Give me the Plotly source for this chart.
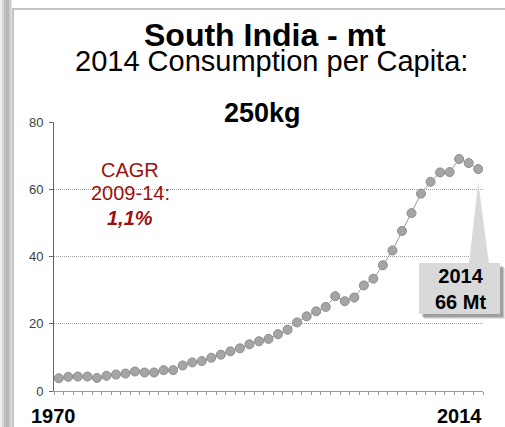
import plotly.graph_objects as go

# Annual cement consumption, South India (million tonnes)
years = list(range(1970, 2015))
consumption_mt = [
    3.8, 4.2, 4.3, 4.3, 3.9, 4.5, 4.9, 5.2, 5.8, 5.5,
    5.5, 6.2, 6.2, 7.6, 8.5, 8.9, 9.9, 10.8, 11.8, 12.7,
    13.9, 14.8, 15.5, 16.9, 18.2, 20.4, 22.2, 23.7, 25.0, 28.2,
    26.7, 27.8, 31.4, 33.4, 37.4, 41.8, 47.6, 52.9, 58.7, 62.2,
    65.0, 65.1, 69.0, 67.8, 66.0,
]
y_ticks = [0, 20, 40, 60, 80]
title_text = "South India - mt"
subtitle_text = "2014 Consumption per Capita:"
per_capita_text = "250kg"
cagr_lines = ["CAGR", "2009-14:", "<i><b>1,1%</b></i>"]
end_label = f"{years[-1]}<br>{consumption_mt[-1]:.0f} Mt"

W, H = 505, 427
ML, MR, MT, MB = 54, 22, 122, 36
PW, PH = W - ML - MR, H - MT - MB
X_RANGE = [years[0] - 0.5, years[-1] + 0.5]
Y_RANGE = [0, 80]

FONT = "Liberation Sans, Arial, sans-serif"


def px(x):
    """pixel x -> paper x"""
    return (x - ML) / PW


def py(y):
    """pixel y (from top) -> paper y"""
    return (H - MB - y) / PH


def data_to_px(xv, yv):
    xp = ML + (xv - X_RANGE[0]) / (X_RANGE[1] - X_RANGE[0]) * PW
    yp = (H - MB) - (yv - Y_RANGE[0]) / (Y_RANGE[1] - Y_RANGE[0]) * PH
    return xp, yp


fig = go.Figure()
fig.add_trace(go.Scatter(
    x=years, y=consumption_mt, mode="lines+markers",
    line=dict(color="#9a9a9a", width=1),
    marker=dict(size=9, color="#a5a5a5", line=dict(color="#8c8c8c", width=1)),
    hoverinfo="x+y", showlegend=False,
))

shapes = []
# frame: soft left bar and thin border of the panel
stripes = [(0, 2, "#eeeeee"), (2, 4, "#d6d6d6"), (4, 6, "#c2c2c2"),
           (6, 9, "#b8b8b8"), (9, 11, "#cdcdcd"), (11, 12, "#e6e6e6")]
for x0, x1, c in stripes:
    shapes.append(dict(type="rect", xref="paper", yref="paper",
                       x0=px(x0), x1=px(x1), y0=py(H), y1=py(0),
                       line=dict(width=0), fillcolor=c, layer="below"))
shapes.append(dict(type="line", xref="paper", yref="paper",
                   x0=px(13), x1=px(13), y0=py(9), y1=py(H),
                   line=dict(color="#c4c4c4", width=2)))
shapes.append(dict(type="line", xref="paper", yref="paper",
                   x0=px(12), x1=px(W), y0=py(9), y1=py(9),
                   line=dict(color="#c4c4c4", width=2)))

# callout for the last year
tip_x, tip_y = data_to_px(years[-1], consumption_mt[-1])
tip_y += 13
box_x0, box_x1, box_y0, box_y1 = 419, 500, 263, 314
for off, alpha in [(5, 0.10), (4, 0.14), (3, 0.18)]:
    shapes.append(dict(type="rect", xref="paper", yref="paper",
                       x0=px(box_x0 + off), x1=px(box_x1 + off),
                       y0=py(box_y1 + off), y1=py(box_y0 + off),
                       line=dict(width=0), fillcolor=f"rgba(0,0,0,{alpha})"))
shapes.append(dict(type="path", xref="paper", yref="paper",
                   path=f"M {px(469)},{py(box_y0 + 1)} L {px(tip_x)},{py(tip_y)} "
                        f"L {px(489)},{py(box_y0 + 1)} Z",
                   line=dict(width=0), fillcolor="#d9d9d9"))
shapes.append(dict(type="rect", xref="paper", yref="paper",
                   x0=px(box_x0), x1=px(box_x1), y0=py(box_y1), y1=py(box_y0),
                   line=dict(width=0), fillcolor="#d9d9d9"))

annotations = []


def label(text, x, y, size, color="#000000", bold=False):
    annotations.append(dict(
        text=f"<b>{text}</b>" if bold else text,
        xref="paper", yref="paper", x=px(x), y=py(y),
        xanchor="center", yanchor="middle", showarrow=False,
        font=dict(family=FONT, size=size, color=color)))


label(title_text, 265, 35, 32, bold=True)
label(subtitle_text, 271, 61, 29)
label(per_capita_text, 262, 113, 27, bold=True)
cagr_color = "#9c1010"
label(cagr_lines[0], 130, 170, 20, cagr_color)
label(cagr_lines[1], 130, 193, 20, cagr_color)
label(cagr_lines[2], 130, 218, 20, cagr_color)
label(str(years[0]), 53, 416, 20, bold=True)
label(str(years[-1]), 459, 416, 20, bold=True)
label(end_label, 460, 289, 20, bold=True)

fig.update_layout(
    width=W, height=H,
    margin=dict(l=ML, r=MR, t=MT, b=MB, pad=0),
    paper_bgcolor="white", plot_bgcolor="white",
    font=dict(family=FONT),
    shapes=shapes, annotations=annotations,
    xaxis=dict(
        range=X_RANGE, tickvals=[y - 0.5 for y in years] + [years[-1] + 0.5],
        showticklabels=False, ticks="outside", ticklen=3, tickcolor="#9a9a9a",
        showline=True, linecolor="#9a9a9a", linewidth=1,
        showgrid=False, zeroline=False, fixedrange=True,
    ),
    yaxis=dict(
        range=Y_RANGE, tickvals=y_ticks, ticks="outside", ticklen=4,
        tickcolor="#666666", showline=True, linecolor="#666666", linewidth=1,
        showgrid=True, gridcolor="#a0a0a0", griddash="1px,1px", gridwidth=1,
        zeroline=False, tickfont=dict(size=13, color="#404040"),
        ticklabelstandoff=3, fixedrange=True,
    ),
)

fig.write_html("out.html", config={"displayModeBar": False})
